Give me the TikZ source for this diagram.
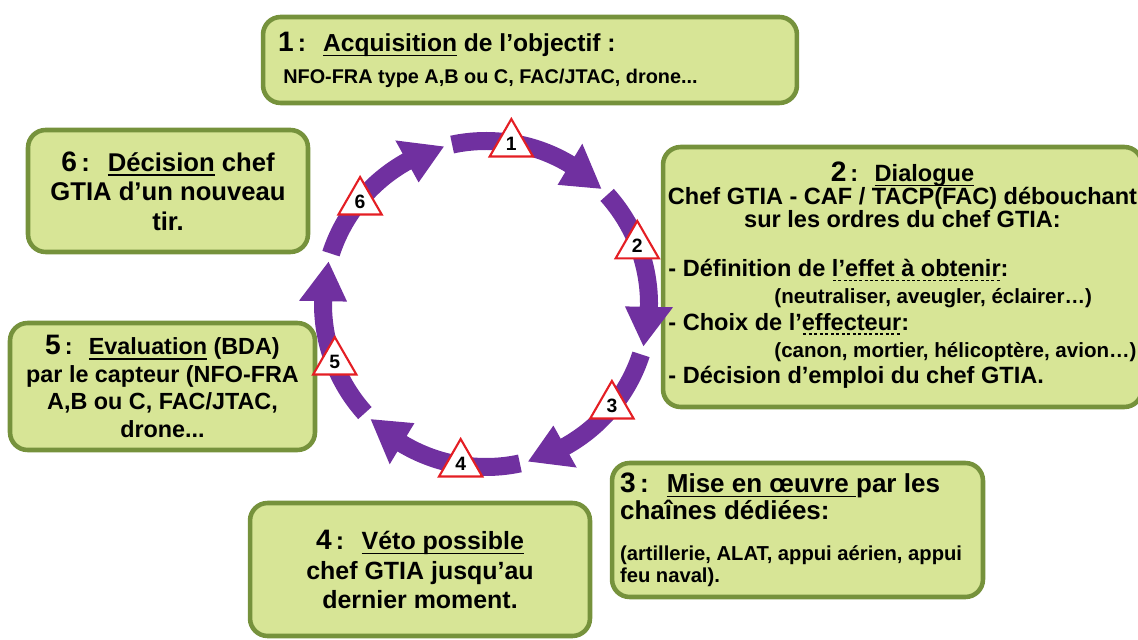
\documentclass[tikz,border=0pt]{standalone}
\usepackage{fontspec}
\setmainfont{Liberation Sans}
\usetikzlibrary{shapes.geometric,calc}
\definecolor{cgreen}{RGB}{118,146,60}
\definecolor{cfill}{RGB}{215,229,150}
\definecolor{cpurple}{RGB}{112,48,160}
\definecolor{cred}{RGB}{228,30,36}
\newcommand{\fs}[2]{\fontsize{#1}{#2}\selectfont}
\newcommand{\stepno}[1]{{\fontsize{16}{16}\selectfont #1}\,:\hspace{0.7em}}
\newcommand{\souligne}[1]{\setbox0\hbox{#1}\rlap{\raisebox{-2.6pt}{\rule{\wd0}{0.8pt}}}\box0\relax}
\newcommand{\tirets}[1]{\setbox0\hbox{#1}\rlap{\raisebox{-2.6pt}{\hbox to\wd0{%
  \xleaders\hbox to 3pt{\hss\vrule width 1.7pt height 0.7pt\hss}\hfil}}}\box0\relax}

\begin{document}
\begin{tikzpicture}[x=0.02cm,y=0.02cm,
  etape/.style={draw=cgreen, fill=cfill, line width=2.6pt, rounded corners=10pt,
    inner sep=0pt, font=\bfseries},
  repere/.style={regular polygon, regular polygon sides=3, draw=cred, fill=white,
    line width=1.2pt, minimum size=1cm, inner sep=0pt, font=\bfseries\fs{11}{11}}]
  \useasboundingbox (0,0) rectangle (1138,639);
  \clip (0,0) rectangle (1138,639);

  % the six steps
  \node[etape, minimum width=10.68cm, minimum height=1.72cm, text width=10.08cm,
    align=flush left, font=\bfseries\fs{14}{18}] (acq) at (530,579)
    {\stepno{1}\souligne{Acquisition} de l’objectif :\\
     {\fs{11.3}{13}\hspace*{3pt}NFO-FRA type A,B ou C, FAC/JTAC, drone...}};
  \node[etape, minimum width=9.58cm, minimum height=5.2cm, align=center,
    font=\bfseries\fs{13.4}{13}] (dialogue) at (902.5,362)
    {\stepno{2}\souligne{Dialogue}\\
     Chef GTIA - CAF / TACP(FAC) débouchant\\
     sur les ordres du chef GTIA:\\[16pt]
     \renewcommand{\arraystretch}{1.18}%
     \begin{tabular}{@{}l@{}}
     - Définition de \tirets{l’effet à obtenir}:\\
     \hspace*{2.12cm}{\fs{11.7}{13}(neutraliser, aveugler, éclairer…)}\\
     - Choix de l’\tirets{effecteur}:\\
     \hspace*{2.12cm}{\fs{11.7}{13}(canon, mortier, hélicoptère, avion…)}\\
     - Décision d’emploi du chef GTIA.
     \end{tabular}};
  \node[etape, minimum width=7.42cm, minimum height=2.68cm, text width=7.1cm,
    align=flush left, font=\bfseries\fs{14.8}{15.4}] (miseoeuvre) at (797.5,109)
    {\stepno{3}\souligne{Mise en œuvre }par les\\
     chaînes dédiées:\par\vspace{11pt}
     {\fs{11.5}{12.5}(artillerie, ALAT, appui aérien, appui\\ feu naval).\par}};
  \node[etape, minimum width=6.8cm, minimum height=2.66cm, align=center,
    font=\bfseries\fs{14.2}{16.8}] (veto) at (420,69.5)
    {\stepno{4}\souligne{Véto possible}\\ chef GTIA jusqu’au\\ dernier moment.};
  \node[etape, minimum width=6.1cm, minimum height=2.54cm, align=center,
    font=\bfseries\fs{13.3}{15.6}] (evaluation) at (162.5,252.5)
    {\stepno{5}\souligne{Evaluation} (BDA)\\ par le capteur (NFO-FRA\\
     A,B ou C, FAC/JTAC,\\ drone...};
  \node[etape, minimum width=5.6cm, minimum height=2.44cm, align=center,
    font=\bfseries\fs{14.6}{16.8}] (decision) at (168,448)
    {\stepno{6}\souligne{Décision} chef\\ GTIA d’un nouveau\\ tir.};

  % cycle
  \begin{scope}[shift={(486,335)}]
    \foreach \k in {0,...,5}{
      \pgfmathsetmacro\s{102-60*\k}
      \pgfmathsetmacro\t{45-60*\k}
      \pgfmathsetmacro\hb{59-60*\k}
      \fill[cpurple] (\s:172) arc[start angle=\s, end angle=\hb, radius=172]
        -- (\hb:187) -- (\t:163) -- (\hb:139) -- (\hb:154)
        arc[start angle=\hb, end angle=\s, radius=154] -- cycle;
    }
    \foreach \k in {1,...,6}{
      \node[repere] (m\k) at ({141-60*\k}:162) {\k};
    }
  \end{scope}
\end{tikzpicture}
\end{document}
